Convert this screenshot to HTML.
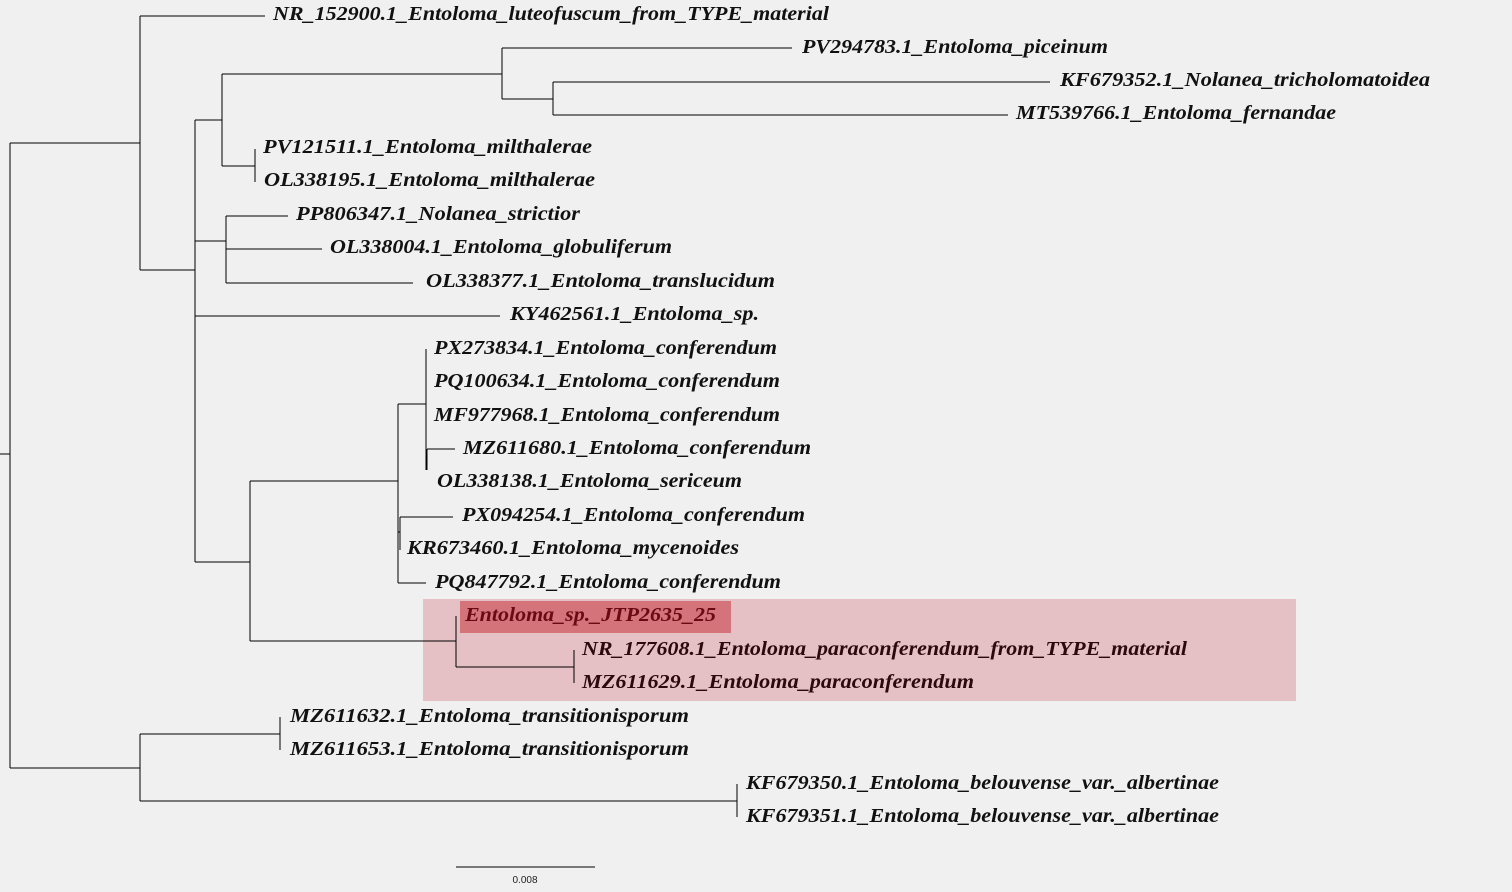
<!DOCTYPE html>
<html><head><meta charset="utf-8"><style>
html,body{margin:0;padding:0;background:#f0f0f0;}
svg{display:block}
text{font-family:"Liberation Serif",serif;font-style:italic;font-weight:bold;font-size:20px;fill:#111;}
</style></head><body>
<svg width="1512" height="892" viewBox="0 0 1512 892" xmlns="http://www.w3.org/2000/svg">
<rect x="0" y="0" width="1512" height="892" fill="#f0f0f0"/>
<rect x="423" y="599" width="873" height="102" fill="#e5c0c4"/>
<rect x="460" y="601" width="271" height="32" fill="#d4737a"/>
<g stroke="#000" stroke-width="1" fill="none" shape-rendering="crispEdges">
<path d="M0 454H10M10 143V768"/>
<path d="M10 143H140M140 16V270M140 16H265"/>
<path d="M140 270H195M195 120V562"/>
<path d="M195 120H222M222 74V166"/>
<path d="M222 74H502M502 48V99M502 48H792"/>
<path d="M502 99H553M553 82V115M553 82H1050M553 115H1008"/>
<path d="M222 166H255M255 149V182"/>
<path d="M195 241H226M226 216V283M226 216H288M226 249H322M226 283H413"/>
<path d="M195 316H500"/>
<path d="M195 562H250M250 481V641"/>
<path d="M250 481H398M398 404V583"/>
<path d="M398 404H426M426 349V470"/>
<path d="M427 449V470M427 449H455"/>
<path d="M398 532H400M400 517V550M400 517H453"/>
<path d="M398 583H426"/>
<path d="M250 641H456M456 616V667"/>
<path d="M456 667H574M574 650V683"/>
<path d="M10 768H140M140 734V801"/>
<path d="M140 734H280M280 717V750"/>
<path d="M140 801H737M737 784V817"/>
<path d="M456 867H595"/>
</g>
<text x="273" y="20" textLength="556" lengthAdjust="spacingAndGlyphs">NR_152900.1_Entoloma_luteofuscum_from_TYPE_material</text>
<text x="802" y="53" textLength="306" lengthAdjust="spacingAndGlyphs">PV294783.1_Entoloma_piceinum</text>
<text x="1060" y="86" textLength="370" lengthAdjust="spacingAndGlyphs">KF679352.1_Nolanea_tricholomatoidea</text>
<text x="1016" y="119" textLength="320" lengthAdjust="spacingAndGlyphs">MT539766.1_Entoloma_fernandae</text>
<text x="263" y="153" textLength="329" lengthAdjust="spacingAndGlyphs">PV121511.1_Entoloma_milthalerae</text>
<text x="264" y="186" textLength="331" lengthAdjust="spacingAndGlyphs">OL338195.1_Entoloma_milthalerae</text>
<text x="296" y="220" textLength="284" lengthAdjust="spacingAndGlyphs">PP806347.1_Nolanea_strictior</text>
<text x="330" y="253" textLength="342" lengthAdjust="spacingAndGlyphs">OL338004.1_Entoloma_globuliferum</text>
<text x="426" y="287" textLength="349" lengthAdjust="spacingAndGlyphs">OL338377.1_Entoloma_translucidum</text>
<text x="510" y="320" textLength="249" lengthAdjust="spacingAndGlyphs">KY462561.1_Entoloma_sp.</text>
<text x="434" y="354" textLength="343" lengthAdjust="spacingAndGlyphs">PX273834.1_Entoloma_conferendum</text>
<text x="434" y="387" textLength="346" lengthAdjust="spacingAndGlyphs">PQ100634.1_Entoloma_conferendum</text>
<text x="434" y="421" textLength="346" lengthAdjust="spacingAndGlyphs">MF977968.1_Entoloma_conferendum</text>
<text x="463" y="454" textLength="348" lengthAdjust="spacingAndGlyphs">MZ611680.1_Entoloma_conferendum</text>
<text x="437" y="487" textLength="305" lengthAdjust="spacingAndGlyphs">OL338138.1_Entoloma_sericeum</text>
<text x="462" y="521" textLength="343" lengthAdjust="spacingAndGlyphs">PX094254.1_Entoloma_conferendum</text>
<text x="407" y="554" textLength="332" lengthAdjust="spacingAndGlyphs">KR673460.1_Entoloma_mycenoides</text>
<text x="435" y="588" textLength="346" lengthAdjust="spacingAndGlyphs">PQ847792.1_Entoloma_conferendum</text>
<text x="465" y="621" textLength="251" lengthAdjust="spacingAndGlyphs" style="fill:#6a0a12">Entoloma_sp._JTP2635_25</text>
<text x="582" y="655" textLength="605" lengthAdjust="spacingAndGlyphs" style="fill:#2a0a0e">NR_177608.1_Entoloma_paraconferendum_from_TYPE_material</text>
<text x="582" y="688" textLength="392" lengthAdjust="spacingAndGlyphs" style="fill:#2a0a0e">MZ611629.1_Entoloma_paraconferendum</text>
<text x="290" y="722" textLength="399" lengthAdjust="spacingAndGlyphs">MZ611632.1_Entoloma_transitionisporum</text>
<text x="290" y="755" textLength="399" lengthAdjust="spacingAndGlyphs">MZ611653.1_Entoloma_transitionisporum</text>
<text x="746" y="789" textLength="473" lengthAdjust="spacingAndGlyphs">KF679350.1_Entoloma_belouvense_var._albertinae</text>
<text x="746" y="822" textLength="473" lengthAdjust="spacingAndGlyphs">KF679351.1_Entoloma_belouvense_var._albertinae</text>
<text x="525" y="883" text-anchor="middle" style="font-family:'Liberation Sans',sans-serif;font-style:normal;font-weight:normal;font-size:10px;fill:#222">0.008</text>
</svg>
</body></html>
